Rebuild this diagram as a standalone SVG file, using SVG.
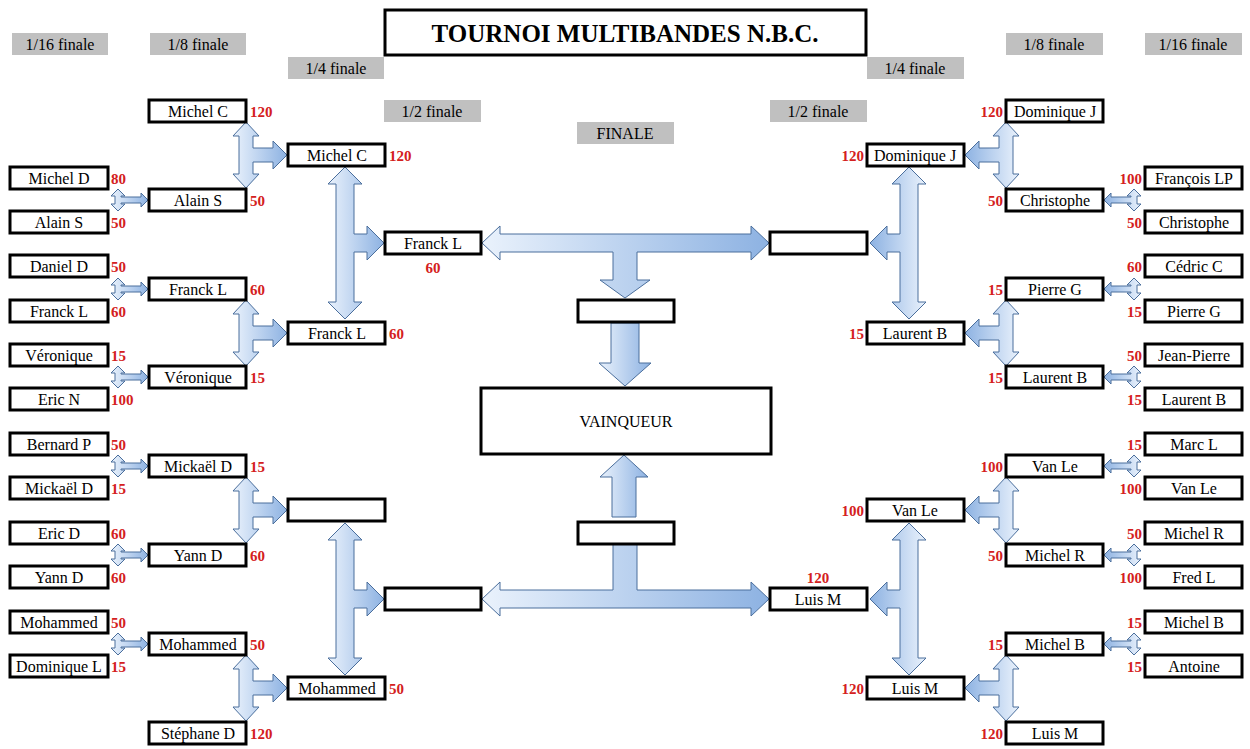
<svg xmlns="http://www.w3.org/2000/svg" width="1250" height="749" viewBox="0 0 1250 749">
<style>
text{font-family:'Liberation Serif','Times New Roman',serif}
.b{fill:#fff;stroke:#000;stroke-width:3}
.n{font-size:16px;text-anchor:middle;fill:#000}
.s{font-size:15px;font-weight:bold;fill:#d42020}
.e{text-anchor:end}
.h{fill:#c0c0c0}
.a{fill:url(#g);stroke:#4a6e9c;stroke-width:1}
</style>
<defs>
<linearGradient id="g" x1="0" y1="0" x2="1" y2="0"><stop offset="0" stop-color="#eaf2fc"/><stop offset="1" stop-color="#8db2e2"/></linearGradient>
<path id="sm" d="M0,-11 L7,-4 L3,-4 L3,-3 L23,-3 L23,-7 L30,0 L23,7 L23,3 L3,3 L3,4 L7,4 L0,11 L-7,4 L-3,4 L-3,-4 L-7,-4 Z"/>
<path id="md" d="M0,-33 L13,-19 L7,-19 L7,-7 L27,-7 L27,-14 L41,0 L27,14 L27,7 L7,7 L7,19 L13,19 L0,33 L-13,19 L-7,19 L-7,-19 L-13,-19 Z"/>
<path id="lg" d="M0,-76 L17,-59 L9,-59 L9,-9 L22,-9 L22,-17 L39,0 L22,17 L22,9 L9,9 L9,59 L17,59 L0,76 L-17,59 L-9,59 L-9,-59 L-17,-59 Z"/>
</defs>
<g id="headers">
<rect class="b" x="385" y="10" width="481" height="45"/>
<text x="625" y="42" font-size="25" font-weight="bold" text-anchor="middle">TOURNOI MULTIBANDES N.B.C.</text>
<rect class="h" x="12" y="33" width="96" height="22"/><text class="n" x="60" y="50">1/16 finale</text>
<rect class="h" x="150" y="33" width="96" height="22"/><text class="n" x="198" y="50">1/8 finale</text>
<rect class="h" x="288" y="57" width="96" height="22"/><text class="n" x="336" y="74">1/4 finale</text>
<rect class="h" x="384" y="100" width="97" height="22"/><text class="n" x="432" y="117">1/2 finale</text>
<rect class="h" x="577" y="122" width="97" height="22"/><text class="n" x="625" y="139">FINALE</text>
<rect class="h" x="770" y="100" width="97" height="22"/><text class="n" x="818" y="117">1/2 finale</text>
<rect class="h" x="867" y="57" width="97" height="22"/><text class="n" x="915" y="74">1/4 finale</text>
<rect class="h" x="1006" y="33" width="97" height="22"/><text class="n" x="1054" y="50">1/8 finale</text>
<rect class="h" x="1145" y="33" width="97" height="22"/><text class="n" x="1193" y="50">1/16 finale</text>
</g>
<g id="connectors">
<use href="#sm" class="a" transform="translate(118,200)"/>
<use href="#sm" class="a" transform="translate(118,289)"/>
<use href="#sm" class="a" transform="translate(118,377)"/>
<use href="#sm" class="a" transform="translate(118,466)"/>
<use href="#sm" class="a" transform="translate(118,555)"/>
<use href="#sm" class="a" transform="translate(118,644)"/>
<use href="#sm" class="a" transform="translate(1134,200) scale(-1,1)"/>
<use href="#sm" class="a" transform="translate(1134,289) scale(-1,1)"/>
<use href="#sm" class="a" transform="translate(1134,377) scale(-1,1)"/>
<use href="#sm" class="a" transform="translate(1134,466) scale(-1,1)"/>
<use href="#sm" class="a" transform="translate(1134,555) scale(-1,1)"/>
<use href="#sm" class="a" transform="translate(1134,644) scale(-1,1)"/>
<use href="#md" class="a" transform="translate(246,155)"/>
<use href="#md" class="a" transform="translate(246,333)"/>
<use href="#md" class="a" transform="translate(246,510)"/>
<use href="#md" class="a" transform="translate(246,688)"/>
<use href="#md" class="a" transform="translate(1006,155) scale(-1,1)"/>
<use href="#md" class="a" transform="translate(1006,333) scale(-1,1)"/>
<use href="#md" class="a" transform="translate(1006,510) scale(-1,1)"/>
<use href="#md" class="a" transform="translate(1006,688) scale(-1,1)"/>
<use href="#lg" class="a" transform="translate(345,243)"/>
<use href="#lg" class="a" transform="translate(345,599)"/>
<use href="#lg" class="a" transform="translate(909,243) scale(-1,1)"/>
<use href="#lg" class="a" transform="translate(909,599) scale(-1,1)"/>
<path class="a" d="M482,243 L500,226 L500,234 L751,234 L751,226 L769,243 L751,260 L751,252 L637,252 L637,280 L650,280 L625,298 L600,280 L613,280 L613,252 L500,252 L500,260 Z"/>
<path class="a" d="M482,599 L500,582 L500,590 L613,590 L613,542 L600,542 L625,522 L650,542 L637,542 L637,590 L751,590 L751,582 L769,599 L751,616 L751,608 L500,608 L500,616 Z"/>
<path class="a" d="M611,323 L639,323 L639,363 L651,363 L625,386 L599,363 L611,363 Z"/>
<path class="a" d="M612,517 L636,517 L636,477 L648,477 L624,455 L600,477 L612,477 Z"/>
</g>
<g id="center">
<rect class="b" x="578" y="300" width="96" height="22"/>
<rect class="b" x="578" y="522" width="96" height="22"/>
<rect class="b" x="481" y="388" width="290" height="66"/>
<text class="n" x="626" y="427">VAINQUEUR</text>
</g>
<g id="left16">
<rect class="b" x="10" y="167" width="98" height="22"/><text class="n" x="59" y="184">Michel D</text><text class="s" x="111" y="184">80</text>
<rect class="b" x="10" y="211" width="98" height="22"/><text class="n" x="59" y="228">Alain S</text><text class="s" x="111" y="228">50</text>
<rect class="b" x="10" y="255" width="98" height="22"/><text class="n" x="59" y="272">Daniel D</text><text class="s" x="111" y="272">50</text>
<rect class="b" x="10" y="300" width="98" height="22"/><text class="n" x="59" y="317">Franck L</text><text class="s" x="111" y="317">60</text>
<rect class="b" x="10" y="344" width="98" height="22"/><text class="n" x="59" y="361">Véronique</text><text class="s" x="111" y="361">15</text>
<rect class="b" x="10" y="388" width="98" height="22"/><text class="n" x="59" y="405">Eric N</text><text class="s" x="111" y="405">100</text>
<rect class="b" x="10" y="433" width="98" height="22"/><text class="n" x="59" y="450">Bernard P</text><text class="s" x="111" y="450">50</text>
<rect class="b" x="10" y="477" width="98" height="22"/><text class="n" x="59" y="494">Mickaël D</text><text class="s" x="111" y="494">15</text>
<rect class="b" x="10" y="522" width="98" height="22"/><text class="n" x="59" y="539">Eric D</text><text class="s" x="111" y="539">60</text>
<rect class="b" x="10" y="566" width="98" height="22"/><text class="n" x="59" y="583">Yann D</text><text class="s" x="111" y="583">60</text>
<rect class="b" x="10" y="611" width="98" height="22"/><text class="n" x="59" y="628">Mohammed</text><text class="s" x="111" y="628">50</text>
<rect class="b" x="10" y="655" width="98" height="22"/><text class="n" x="59" y="672">Dominique L</text><text class="s" x="111" y="672">15</text>
</g>
<g id="left8">
<rect class="b" x="149" y="100" width="97" height="22"/><text class="n" x="198" y="117">Michel C</text><text class="s" x="250" y="117">120</text>
<rect class="b" x="149" y="189" width="97" height="22"/><text class="n" x="198" y="206">Alain S</text><text class="s" x="250" y="206">50</text>
<rect class="b" x="149" y="278" width="97" height="22"/><text class="n" x="198" y="295">Franck L</text><text class="s" x="250" y="295">60</text>
<rect class="b" x="149" y="366" width="97" height="22"/><text class="n" x="198" y="383">Véronique</text><text class="s" x="250" y="383">15</text>
<rect class="b" x="149" y="455" width="97" height="22"/><text class="n" x="198" y="472">Mickaël D</text><text class="s" x="250" y="472">15</text>
<rect class="b" x="149" y="544" width="97" height="22"/><text class="n" x="198" y="561">Yann D</text><text class="s" x="250" y="561">60</text>
<rect class="b" x="149" y="633" width="97" height="22"/><text class="n" x="198" y="650">Mohammed</text><text class="s" x="250" y="650">50</text>
<rect class="b" x="149" y="722" width="97" height="22"/><text class="n" x="198" y="739">Stéphane D</text><text class="s" x="250" y="739">120</text>
</g>
<g id="left4">
<rect class="b" x="288" y="144" width="97" height="22"/><text class="n" x="337" y="161">Michel C</text><text class="s" x="389" y="161">120</text>
<rect class="b" x="288" y="322" width="97" height="22"/><text class="n" x="337" y="339">Franck L</text><text class="s" x="389" y="339">60</text>
<rect class="b" x="288" y="499" width="97" height="22"/>
<rect class="b" x="288" y="677" width="97" height="22"/><text class="n" x="337" y="694">Mohammed</text><text class="s" x="389" y="694">50</text>
</g>
<g id="left2">
<rect class="b" x="385" y="232" width="96" height="22"/><text class="n" x="433" y="249">Franck L</text><text class="s" x="433" y="273" text-anchor="middle">60</text>
<rect class="b" x="385" y="588" width="96" height="22"/>
</g>
<g id="right2">
<rect class="b" x="770" y="232" width="97" height="22"/>
<rect class="b" x="770" y="588" width="97" height="22"/><text class="n" x="818" y="605">Luis M</text><text class="s" x="818" y="583" text-anchor="middle">120</text>
</g>
<g id="right4">
<rect class="b" x="867" y="144" width="97" height="22"/><text class="n" x="915" y="161">Dominique J</text><text class="s e" x="864" y="161">120</text>
<rect class="b" x="867" y="322" width="97" height="22"/><text class="n" x="915" y="339">Laurent B</text><text class="s e" x="864" y="339">15</text>
<rect class="b" x="867" y="499" width="97" height="22"/><text class="n" x="915" y="516">Van Le</text><text class="s e" x="864" y="516">100</text>
<rect class="b" x="867" y="677" width="97" height="22"/><text class="n" x="915" y="694">Luis M</text><text class="s e" x="864" y="694">120</text>
</g>
<g id="right8">
<rect class="b" x="1006" y="100" width="97" height="22"/><text class="n" x="1055" y="117">Dominique J</text><text class="s e" x="1003" y="117">120</text>
<rect class="b" x="1006" y="189" width="97" height="22"/><text class="n" x="1055" y="206">Christophe</text><text class="s e" x="1003" y="206">50</text>
<rect class="b" x="1006" y="278" width="97" height="22"/><text class="n" x="1055" y="295">Pierre G</text><text class="s e" x="1003" y="295">15</text>
<rect class="b" x="1006" y="366" width="97" height="22"/><text class="n" x="1055" y="383">Laurent B</text><text class="s e" x="1003" y="383">15</text>
<rect class="b" x="1006" y="455" width="97" height="22"/><text class="n" x="1055" y="472">Van Le</text><text class="s e" x="1003" y="472">100</text>
<rect class="b" x="1006" y="544" width="97" height="22"/><text class="n" x="1055" y="561">Michel R</text><text class="s e" x="1003" y="561">50</text>
<rect class="b" x="1006" y="633" width="97" height="22"/><text class="n" x="1055" y="650">Michel B</text><text class="s e" x="1003" y="650">15</text>
<rect class="b" x="1006" y="722" width="97" height="22"/><text class="n" x="1055" y="739">Luis M</text><text class="s e" x="1003" y="739">120</text>
</g>
<g id="right16">
<rect class="b" x="1145" y="167" width="97" height="22"/><text class="n" x="1194" y="184">François LP</text><text class="s e" x="1142" y="184">100</text>
<rect class="b" x="1145" y="211" width="97" height="22"/><text class="n" x="1194" y="228">Christophe</text><text class="s e" x="1142" y="228">50</text>
<rect class="b" x="1145" y="255" width="97" height="22"/><text class="n" x="1194" y="272">Cédric C</text><text class="s e" x="1142" y="272">60</text>
<rect class="b" x="1145" y="300" width="97" height="22"/><text class="n" x="1194" y="317">Pierre G</text><text class="s e" x="1142" y="317">15</text>
<rect class="b" x="1145" y="344" width="97" height="22"/><text class="n" x="1194" y="361">Jean-Pierre</text><text class="s e" x="1142" y="361">50</text>
<rect class="b" x="1145" y="388" width="97" height="22"/><text class="n" x="1194" y="405">Laurent B</text><text class="s e" x="1142" y="405">15</text>
<rect class="b" x="1145" y="433" width="97" height="22"/><text class="n" x="1194" y="450">Marc L</text><text class="s e" x="1142" y="450">15</text>
<rect class="b" x="1145" y="477" width="97" height="22"/><text class="n" x="1194" y="494">Van Le</text><text class="s e" x="1142" y="494">100</text>
<rect class="b" x="1145" y="522" width="97" height="22"/><text class="n" x="1194" y="539">Michel R</text><text class="s e" x="1142" y="539">50</text>
<rect class="b" x="1145" y="566" width="97" height="22"/><text class="n" x="1194" y="583">Fred L</text><text class="s e" x="1142" y="583">100</text>
<rect class="b" x="1145" y="611" width="97" height="22"/><text class="n" x="1194" y="628">Michel B</text><text class="s e" x="1142" y="628">15</text>
<rect class="b" x="1145" y="655" width="97" height="22"/><text class="n" x="1194" y="672">Antoine</text><text class="s e" x="1142" y="672">15</text>
</g>
</svg>
